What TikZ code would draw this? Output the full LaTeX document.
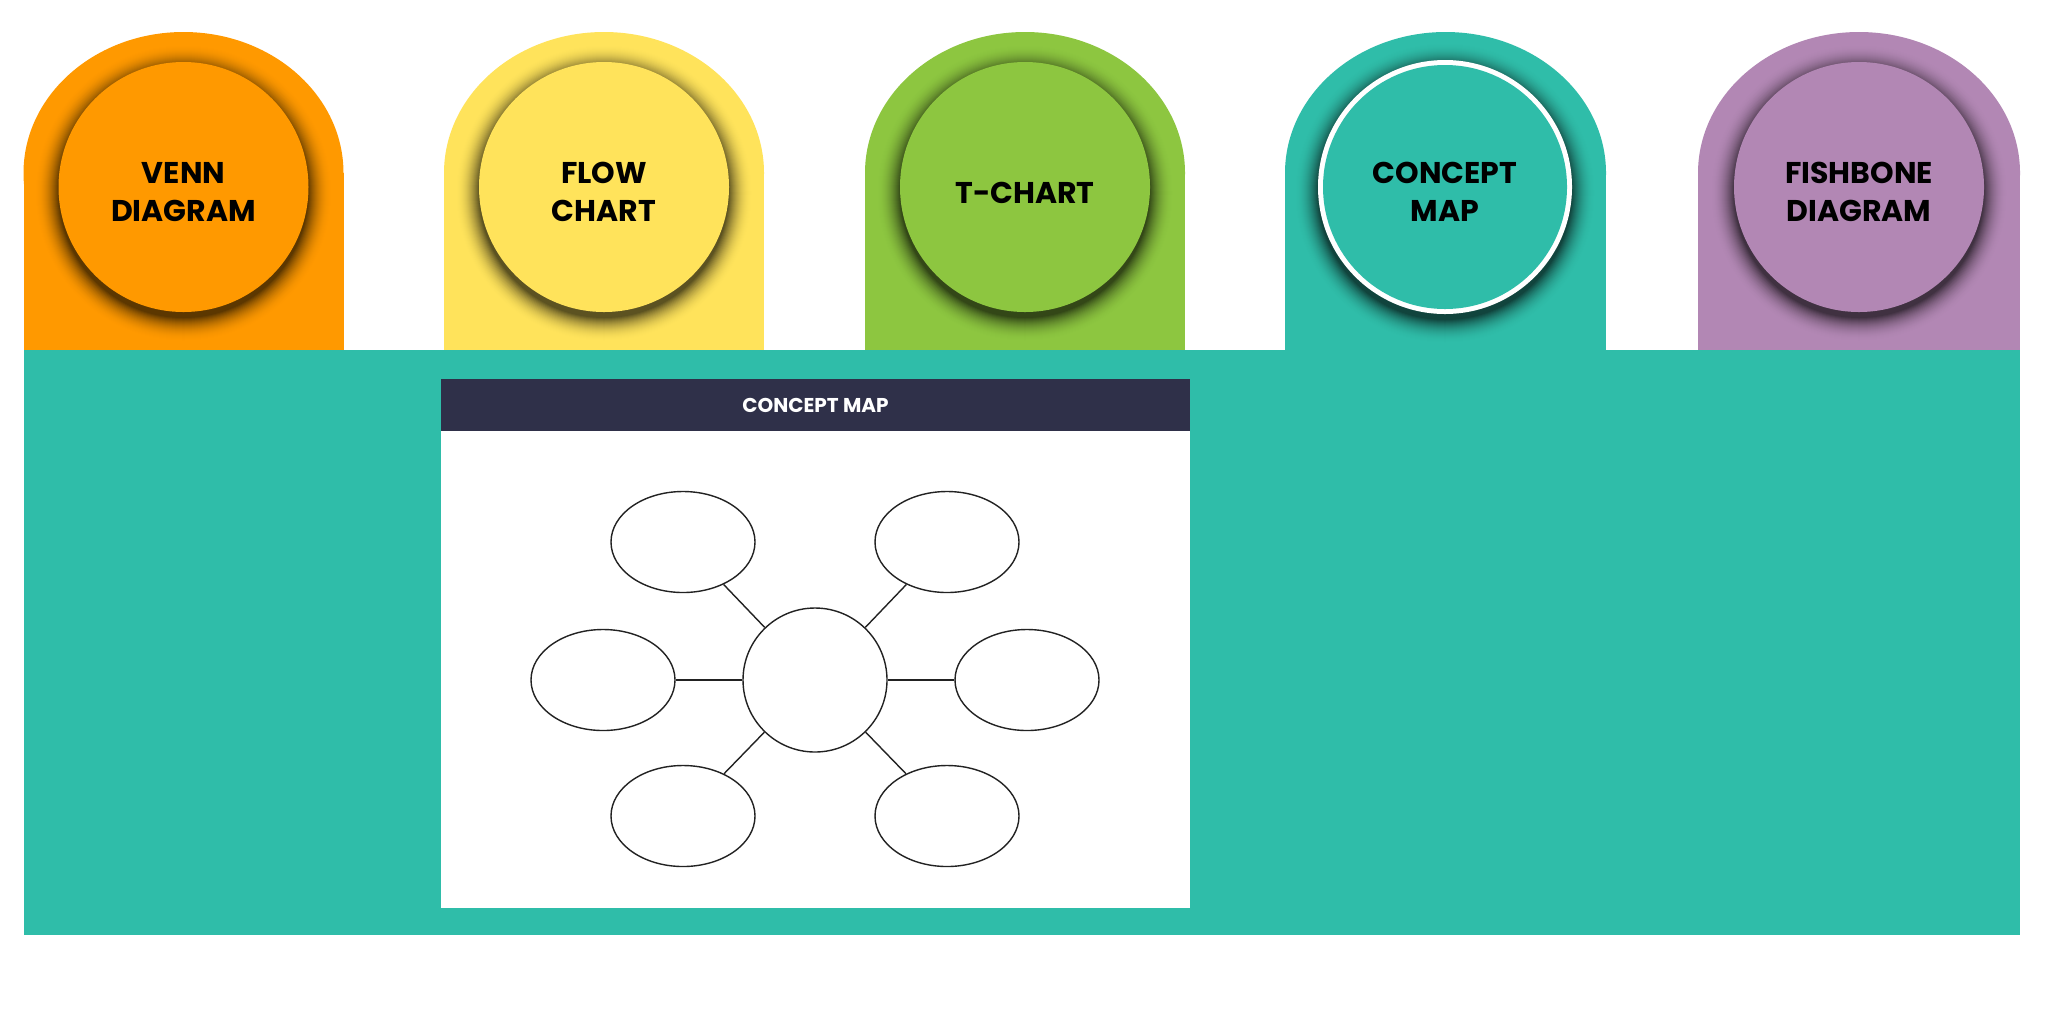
\documentclass[tikz,border=0pt]{standalone}
\usepackage{fontspec}
\setmainfont{Poppins}
\usetikzlibrary{shapes.geometric}
\definecolor{cOrange}{HTML}{FF9900}
\definecolor{cYellow}{HTML}{FFE35B}
\definecolor{cGreen}{HTML}{8DC640}
\definecolor{cTeal}{HTML}{2FBDA9}
\definecolor{cPurple}{HTML}{B287B4}
\definecolor{cHeader}{HTML}{2F3049}
\definecolor{cLine}{HTML}{222222}
\tikzset{
  lbl/.style={font=\bfseries\fontsize{15}{19}\selectfont, align=center, text=black, inner sep=0pt},
  hdr/.style={font=\bfseries\fontsize{10}{12}\selectfont, text=white, inner sep=0pt},
  bubble/.style={draw=cLine, line width=0.7pt, fill=white, ellipse, minimum width=72pt, minimum height=50.5pt, inner sep=0pt},
  hub/.style={draw=cLine, line width=0.7pt, fill=white, circle, minimum size=72pt, inner sep=0pt},
  link/.style={draw=cLine, line width=0.7pt},
}
% #1 left x, #2 width, #3 colour
\newcommand\tabshape[3]{%
  \fill[#3] (#1+#2/2,173) ellipse [x radius=#2/2, y radius=141];
  \fill[#3] (#1,173) rectangle (#1+#2,350);
}
% #1 cx, #2 cy, #3 r, #4 colour
\newcommand\circshadow[4]{%
  \foreach \k in {0,...,24}{%
    \pgfmathsetmacro\pp{64*(\k/24)^2}%
    \fill[black!\pp!#4] (#1,#2+6) circle [radius=#3+24-\k];
  }%
}
\begin{document}
\begin{tikzpicture}[x=0.5pt,y=-0.5pt]
\useasboundingbox (0,0) rectangle (2048,1024);
\fill[white] (0,0) rectangle (2048,1024);

% tabs
\tabshape{23.5}{320}{cOrange}
\tabshape{444}{320}{cYellow}
\tabshape{865}{320}{cGreen}
\tabshape{1285}{321}{cTeal}
\tabshape{1698}{322}{cPurple}

% main panel
\fill[cTeal] (23.5,350) rectangle (2020,935);

% circles with shadows
\circshadow{183.5}{187}{125}{cOrange}
\fill[cOrange] (183.5,187) circle [radius=125];
\node[lbl] (venn) at (183.5,192) {VENN\\DIAGRAM};

\circshadow{604}{187}{125}{cYellow}
\fill[cYellow] (604,187) circle [radius=125];
\node[lbl] (flow) at (604,192) {FLOW\\CHART};

\circshadow{1025}{187}{125}{cGreen}
\fill[cGreen] (1025,187) circle [radius=125];
\node[lbl] (tchart) at (1025,193) {T-CHART};

\circshadow{1445}{187}{127}{cTeal}
\fill[white] (1445,187) circle [radius=127];
\fill[cTeal] (1445,187) circle [radius=122];
\node[lbl] (cmap) at (1445,192) {CONCEPT\\MAP};

\circshadow{1859}{187}{125}{cPurple}
\fill[cPurple] (1859,187) circle [radius=125];
\node[lbl] (fish) at (1859,192) {FISHBONE\\DIAGRAM};

% card
\fill[white] (441,379) rectangle (1190,908);
\fill[cHeader] (441,379) rectangle (1190,431);
\node[hdr] (title) at (815.5,405) {CONCEPT MAP};

% concept map
\node[hub] (c) at (815,680) {};
\node[bubble] (tl) at (683,542) {};
\node[bubble] (tr) at (947,542) {};
\node[bubble] (l) at (603,680) {};
\node[bubble] (r) at (1027,680) {};
\node[bubble] (bl) at (683,816) {};
\node[bubble] (br) at (947,816) {};
\draw[link] (c) -- (tl);
\draw[link] (c) -- (tr);
\draw[link] (c) -- (l);
\draw[link] (c) -- (r);
\draw[link] (c) -- (bl);
\draw[link] (c) -- (br);
\end{tikzpicture}
\end{document}
